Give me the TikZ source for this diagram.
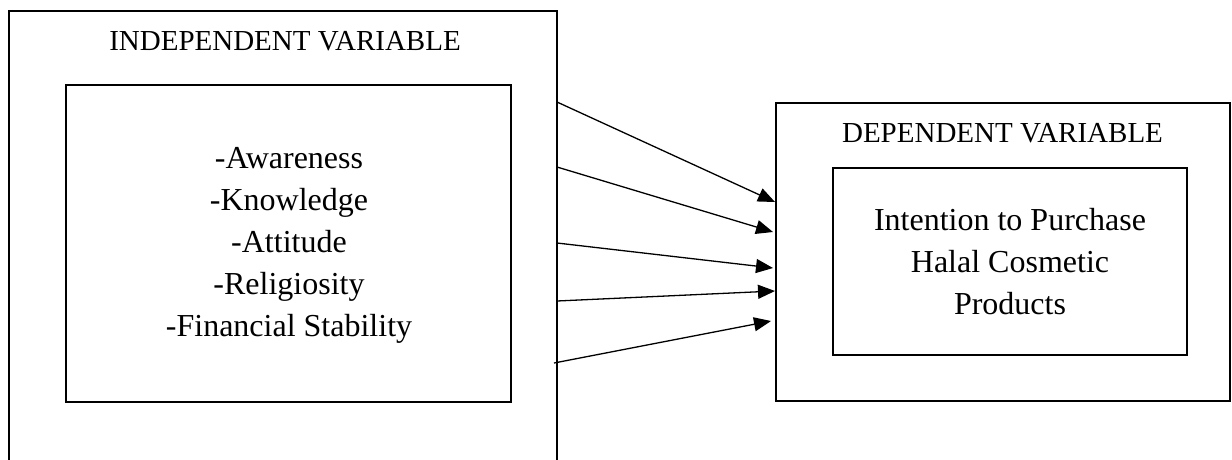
\documentclass[tikz,border=0pt]{standalone}
\usepackage{fontspec}
\setmainfont{Liberation Serif}
\usetikzlibrary{arrows.meta,calc}
\begin{document}
\begin{tikzpicture}[x=1pt,y=-1pt,
  box/.style={draw, line width=2.2pt, inner sep=0pt, outer sep=0pt},
  lbl/.style={font=\fontsize{29}{34}\selectfont, inner sep=0pt},
  body/.style={font=\fontsize{32}{42}\selectfont, align=center, inner sep=0pt},
  arr/.style={line width=1.3pt, -{Triangle[length=17pt,width=14pt]}}]
\useasboundingbox (0,0) rectangle (1232,459);
\clip (0,0) rectangle (1232,459);
% left block
\node[box, minimum width=548pt, minimum height=480pt] (lo) at (283,251) {};
\node[lbl] (lt) at (285,41) {INDEPENDENT VARIABLE};
\node[box, minimum width=445pt, minimum height=317pt] (li) at (288.5,243.5) {};
\node[body] (lb) at (289,245) {-Awareness\\-Knowledge\\-Attitude\\-Religiosity\\-Financial Stability};
% right block
\node[box, minimum width=454pt, minimum height=298pt] (ro) at (1003,252) {};
\node[lbl] (rt) at (1002.5,133) {DEPENDENT VARIABLE};
\node[box, minimum width=354pt, minimum height=187pt] (ri) at (1010,261.5) {};
\node[body] (rb) at (1010,262) {Intention to Purchase\\Halal Cosmetic\\Products};
% arrows
\draw[arr] ($(lo.north east)+(0,91)$)  -- ($(ro.north west)+(-1,99)$);
\draw[arr] ($(lo.north east)+(0,156)$) -- ($(ro.north west)+(-3,129)$);
\draw[arr] ($(lo.north east)+(0,232)$) -- ($(ro.north west)+(-3,165)$);
\draw[arr] ($(lo.north east)+(0,290)$) -- ($(ro.north west)+(-1,188)$);
\draw[arr] ($(lo.north east)+(-3,352)$) -- ($(ro.north west)+(-5,218)$);
\end{tikzpicture}
\end{document}
